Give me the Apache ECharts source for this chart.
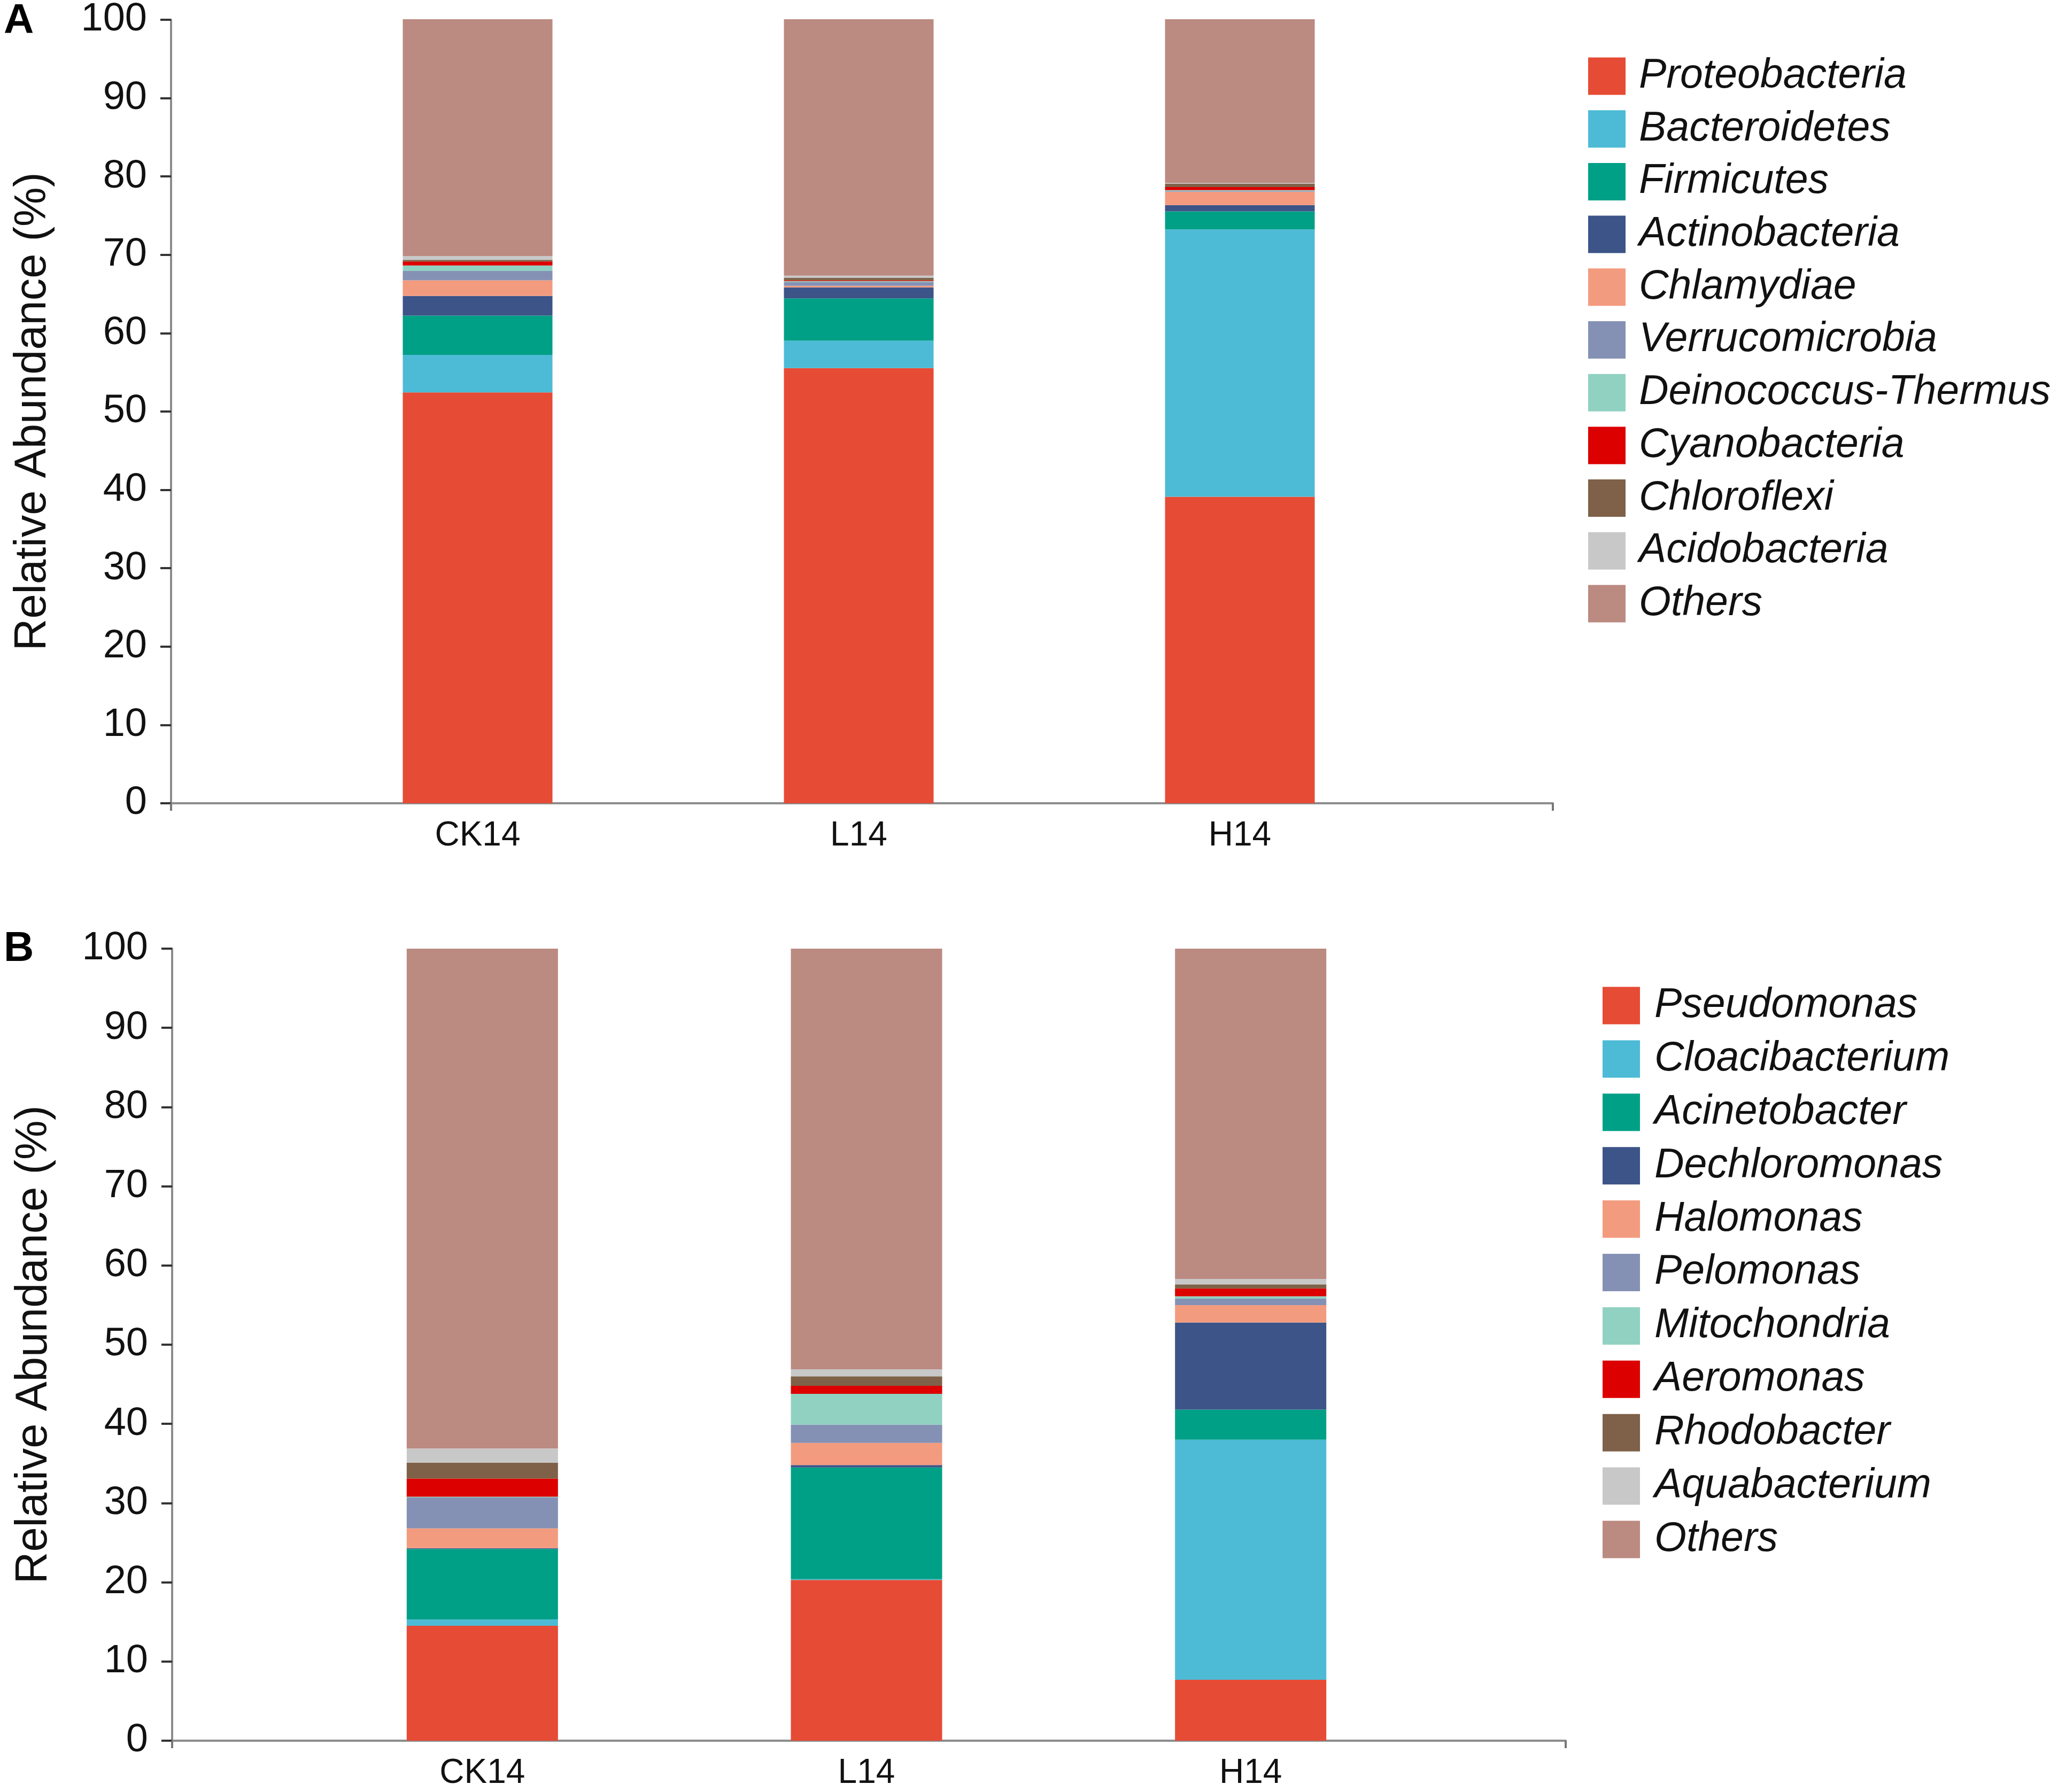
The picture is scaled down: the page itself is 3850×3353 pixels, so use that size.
<!DOCTYPE html>
<html>
<head>
<meta charset="utf-8">
<script src="https://cdn.jsdelivr.net/npm/echarts@6/dist/echarts.min.js"></script>
<style>
html,body{margin:0;padding:0;background:#fff;}
#chart{width:3850px;height:3353px;}
</style>
</head>
<body>
<div id="chart"></div>
<script>
// ---------- data ----------
const categories = ['CK14', 'L14', 'H14'];
const yTicks = [0, 10, 20, 30, 40, 50, 60, 70, 80, 90, 100];

// Panel A (phylum level), values in % for CK14, L14, H14
const phylumNames = ['Proteobacteria', 'Bacteroidetes', 'Firmicutes', 'Actinobacteria', 'Chlamydiae',
  'Verrucomicrobia', 'Deinococcus-Thermus', 'Cyanobacteria', 'Chloroflexi', 'Acidobacteria', 'Others'];
const proteobacteria = [52.4, 55.5, 39.1];
const bacteroidetes = [4.8, 3.5, 34.1];
const firmicutes = [5.0, 5.4, 2.3];
const actinobacteria = [2.5, 1.4, 0.8];
const chlamydiae = [2.0, 0.2, 1.7];
const verrucomicrobia = [1.2, 0.5, 0.1];
const deinococcus = [0.7, 0.1, 0.1];
const cyanobacteria = [0.5, 0.1, 0.4];
const chloroflexi = [0.2, 0.3, 0.4];
const acidobacteria = [0.5, 0.3, 0.1];
const othersA = [30.2, 32.7, 20.9];

// Panel B (genus level)
const genusNames = ['Pseudomonas', 'Cloacibacterium', 'Acinetobacter', 'Dechloromonas', 'Halomonas',
  'Pelomonas', 'Mitochondria', 'Aeromonas', 'Rhodobacter', 'Aquabacterium', 'Others'];
const pseudomonas = [14.5, 20.3, 7.7];
const cloacibacterium = [0.8, 0.1, 30.3];
const acinetobacter = [8.9, 14.1, 3.8];
const dechloromonas = [0.1, 0.3, 11.0];
const halomonas = [2.5, 2.8, 2.2];
const pelomonas = [3.9, 2.3, 0.8];
const mitochondria = [0.1, 3.9, 0.3];
const aeromonas = [2.3, 1.0, 1.0];
const rhodobacter = [2.0, 1.2, 0.5];
const aquabacterium = [1.8, 0.9, 0.7];
const othersB = [63.1, 53.1, 41.7];

const palette = ['#E64B35', '#4DBBD5', '#00A087', '#3C5488', '#F39B7F', '#8491B4',
  '#91D1C2', '#DC0000', '#7E6148', '#C8C8C8', '#BB8A81'];

const seriesA = [proteobacteria, bacteroidetes, firmicutes, actinobacteria, chlamydiae,
  verrucomicrobia, deinococcus, cyanobacteria, chloroflexi, acidobacteria, othersA];
const seriesB = [pseudomonas, cloacibacterium, acinetobacter, dechloromonas, halomonas,
  pelomonas, mitochondria, aeromonas, rhodobacter, aquabacterium, othersB];

// ---------- chart ----------
const FONT = 'Liberation Sans, Arial, sans-serif';
const chart = echarts.init(document.getElementById('chart'), null, {renderer: 'canvas'});

const axisLineStyle = {color: '#8c8c8c', width: 4};
const tickStyle = {color: '#333', width: 4};

function frameX(grid) {
  return {
    gridIndex: grid, type: 'value', min: 0, max: 1, interval: 1,
    axisLine: {show: true, onZero: false, lineStyle: axisLineStyle},
    axisTick: {show: true, length: 14, lineStyle: {color: '#777', width: 4}},
    axisLabel: {show: false}, splitLine: {show: false}
  };
}
function catX(grid) {
  return {
    gridIndex: grid, type: 'category', data: categories,
    axisLine: {show: false}, axisTick: {show: false},
    axisLabel: {fontSize: 64, color: '#111', fontFamily: FONT, margin: 29},
    splitLine: {show: false}
  };
}
function frameY(grid) {
  return {
    gridIndex: grid, type: 'value', min: yTicks[0], max: yTicks[yTicks.length - 1], interval: 10,
    name: 'Relative Abundance (%)', nameLocation: 'middle', nameGap: 216,
    nameTextStyle: {fontSize: 83, color: '#111', fontFamily: FONT},
    axisLine: {show: true, lineStyle: axisLineStyle},
    axisTick: {show: true, length: 20, lineStyle: tickStyle},
    axisLabel: {fontSize: 74, color: '#111', fontFamily: FONT, margin: 45},
    splitLine: {show: false}
  };
}
function hiddenY(grid) {
  return {gridIndex: grid, type: 'value', min: 0, max: 100, show: false, splitLine: {show: false}};
}

function makeSeries(names, arrays, xi, yi, stack, width) {
  return arrays.map((arr, i) => ({
    name: names[i], type: 'bar', stack: stack, xAxisIndex: xi, yAxisIndex: yi,
    barWidth: width, data: arr, itemStyle: {color: palette[i]},
    emphasis: {disabled: true}, animation: false
  }));
}

function legend(names, left, top, gap, textPad) {
  return {
    orient: 'vertical', left: left, top: top, icon: 'rect',
    itemWidth: 70, itemHeight: 70, itemGap: gap, data: names,
    selectedMode: false,
    textStyle: {fontSize: 77, fontStyle: 'italic', color: '#111', fontFamily: FONT,
      lineHeight: 70, padding: [0, 0, 0, textPad]}
  };
}

chart.setOption({
  backgroundColor: '#fff',
  animation: false,
  title: [
    {text: 'A', left: 2, top: -4, textStyle: {fontSize: 78, fontWeight: 'bold', color: '#000', fontFamily: FONT}},
    {text: 'B', left: 2, top: 1732, textStyle: {fontSize: 78, fontWeight: 'bold', color: '#000', fontFamily: FONT}}
  ],
  legend: [
    legend(phylumNames, 2966, 99, 21.7, 20),
    legend(genusNames, 2993, 1838, 22.9, 22)
  ],
  grid: [
    {left: 320, top: 36, width: 2585, height: 1467},
    {left: 537, top: 36, width: 2139, height: 1467},
    {left: 322, top: 1775, width: 2607, height: 1482},
    {left: 543, top: 1775, width: 2156, height: 1482}
  ],
  xAxis: [frameX(0), catX(1), frameX(2), catX(3)],
  yAxis: [frameY(0), hiddenY(1), frameY(2), hiddenY(3)],
  series: [].concat(
    makeSeries(phylumNames, seriesA, 1, 1, 'A', 280),
    makeSeries(genusNames, seriesB, 3, 3, 'B', 283)
  )
});
</script>
</body>
</html>
